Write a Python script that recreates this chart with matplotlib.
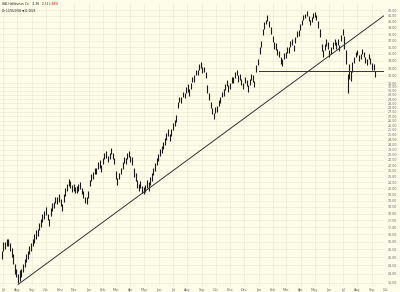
import matplotlib
matplotlib.use("Agg")
import matplotlib.pyplot as plt
import matplotlib.ticker as mticker
import numpy as np
import pandas as pd

# ---- data: two price bars per week (Tuesday and Friday) ----
tue_dates = pd.date_range("2004-06-29", "2006-09-05", freq="W-TUE")
fri_dates = pd.date_range("2004-07-02", "2006-09-08", freq="W-FRI")

tue_low = [14.9, 15.5, 15.7, 15.0, 14.0, 13.5, 13.8, 14.4, 14.9, 15.4,
           15.9, 16.4, 17.0, 17.6, 17.5, 17.8, 18.4, 18.7, 18.6, 18.9,
           19.8, 20.0, 19.8, 19.6, 19.9, 19.2, 18.7, 20.2, 20.8, 21.2,
           21.8, 22.1, 22.7, 22.6, 22.6, 20.8, 20.8, 21.7, 22.1, 22.8,
           22.0, 20.6, 19.8, 19.6, 19.7, 19.8, 20.6, 21.5, 22.4, 23.2,
           24.0, 24.9, 24.9, 25.9, 27.9, 28.5, 29.1, 29.9, 30.3, 31.2,
           32.0, 33.0, 32.4, 29.8, 27.9, 26.7, 27.5, 28.5, 29.4, 30.6,
           30.3, 31.0, 32.0, 31.4, 30.3, 30.6, 30.7, 31.2, 32.5, 35.0,
           37.8, 39.6, 39.2, 36.8, 35.6, 34.5, 33.3, 34.4, 35.1, 36.4,
           36.6, 37.7, 39.5, 40.6, 40.2, 40.0, 40.9, 39.0, 35.5, 35.6,
           35.8, 35.0, 36.3, 36.3, 37.0, 35.8, 29.7, 31.3, 33.7, 34.8,
           34.2, 34.5, 33.4, 33.6, 32.7]
tue_high = [15.4, 16.0, 16.2, 15.6, 14.6, 14.0, 14.3, 14.9, 15.4, 15.9,
            16.5, 16.9, 17.6, 18.2, 18.0, 18.4, 18.9, 19.3, 19.1, 19.5,
            20.4, 20.6, 20.4, 20.2, 20.5, 19.8, 19.3, 20.7, 21.4, 21.8,
            22.5, 22.7, 23.4, 23.2, 23.2, 21.5, 21.3, 22.3, 22.7, 23.4,
            22.8, 21.3, 20.4, 20.2, 20.3, 20.5, 21.3, 22.2, 23.1, 23.9,
            24.7, 25.6, 25.6, 26.6, 28.6, 29.2, 29.8, 30.9, 31.0, 32.0,
            32.8, 33.9, 33.2, 30.8, 28.7, 27.4, 28.2, 29.2, 30.2, 31.4,
            31.0, 31.8, 32.8, 32.2, 31.0, 31.4, 31.5, 32.0, 33.4, 36.0,
            38.9, 40.4, 40.2, 37.7, 36.6, 35.4, 34.2, 35.3, 36.0, 37.3,
            37.6, 38.7, 40.3, 41.3, 41.0, 40.8, 41.7, 40.2, 36.5, 36.5,
            36.8, 36.0, 37.3, 37.2, 37.9, 37.7, 32.2, 32.6, 34.5, 35.6,
            35.0, 35.3, 34.2, 34.4, 33.5]
fri_low = [15.4, 15.7, 15.4, 14.6, 13.8, 13.6, 14.1, 14.7, 15.2, 15.7,
           16.2, 16.8, 17.4, 17.9, 17.1, 18.2, 18.8, 18.9, 18.2, 19.4,
           20.2, 19.7, 19.6, 19.8, 19.5, 18.8, 19.2, 20.6, 21.2, 21.7,
           21.4, 22.6, 22.3, 23.1, 22.1, 20.3, 21.2, 22.2, 22.6, 22.3,
           21.0, 20.0, 20.0, 19.5, 20.0, 20.3, 21.1, 22.0, 22.9, 23.6,
           24.5, 24.4, 25.5, 26.4, 28.6, 29.2, 29.8, 29.4, 31.1, 32.0,
           32.8, 32.3, 31.6, 28.9, 27.3, 27.4, 28.2, 29.2, 30.1, 29.9,
           31.0, 31.7, 31.2, 30.7, 31.0, 29.9, 31.4, 30.5, 33.4, 36.0,
           38.8, 40.2, 38.1, 35.8, 34.8, 33.6, 34.2, 35.2, 36.0, 35.5,
           37.5, 38.6, 40.3, 41.0, 39.5, 40.7, 40.4, 37.6, 34.6, 36.2,
           34.6, 35.8, 35.8, 35.4, 37.9, 33.5, 31.5, 32.5, 34.5, 34.0,
           35.0, 33.7, 34.2, 32.8, 31.8]
fri_high = [16.0, 16.2, 15.9, 15.2, 14.3, 14.2, 14.6, 15.2, 15.7, 16.2,
            16.8, 17.3, 18.0, 18.5, 17.6, 18.8, 19.3, 19.5, 18.7, 20.0,
            20.8, 20.3, 20.1, 20.4, 20.0, 19.3, 19.8, 21.2, 21.8, 22.3,
            22.0, 23.2, 22.9, 23.7, 22.7, 20.9, 21.8, 22.8, 23.2, 22.9,
            21.8, 20.7, 20.6, 20.1, 20.7, 21.0, 21.8, 22.7, 23.6, 24.3,
            25.2, 25.1, 26.2, 27.1, 29.3, 29.9, 30.5, 30.2, 31.8, 32.8,
            33.6, 33.1, 32.4, 29.8, 28.0, 28.1, 28.9, 29.9, 30.9, 30.7,
            31.8, 32.5, 32.0, 31.5, 31.8, 30.7, 32.2, 31.3, 34.3, 37.0,
            39.9, 41.1, 39.2, 36.8, 35.7, 34.5, 35.1, 36.1, 36.9, 36.4,
            38.5, 39.6, 41.1, 41.8, 40.3, 41.5, 41.2, 38.8, 35.6, 37.2,
            35.6, 36.8, 36.8, 36.4, 38.8, 35.6, 33.5, 33.8, 35.3, 34.9,
            35.8, 34.6, 35.0, 33.7, 32.6]

support_level = 32.6
support_start = "2006-01-01"
trend_dates = ["2004-08-03", "2006-09-26"]
trend_prices = [13.4, 41.0]

months = pd.date_range("2004-07-01", "2006-10-01", freq="MS")
month_labels = [d.strftime("%b") for d in months]
ytick_vals = list(np.arange(13.0, 31.0, 0.5)) + list(np.arange(31.0, 43.0, 1.0))

# ---- figure ----
BG = "#fdfde9"
GRID = "#ececd4"
fig = plt.figure(figsize=(4.0, 2.92), dpi=100, facecolor=BG)
ax = fig.add_axes([0.0, 0.0205, 0.96, 0.9695], facecolor=BG)

ax.set_yscale("log")
ax.set_ylim(13.31, 43.29)
x_end = pd.Timestamp("2006-09-27")
ax.set_xlim(pd.Timestamp("2004-06-25"), x_end)

# grid
for d in months:
    ax.axvline(d, color=GRID, lw=0.5, zorder=0)
for v in ytick_vals:
    ax.axhline(v, color=GRID, lw=0.5, zorder=0)

# price bars
ax.vlines(tue_dates, tue_low, tue_high, color="#1a1a1a", lw=0.8, zorder=3)
ax.vlines(fri_dates, fri_low, fri_high, color="#1a1a1a", lw=0.8, zorder=3)

# trend lines
ax.plot(pd.to_datetime(trend_dates), trend_prices, color="#333333", lw=0.7, zorder=4)
ax.plot([pd.Timestamp(support_start), x_end],
        [support_level, support_level], color="#333333", lw=0.7, zorder=4)

# y labels on the right
ax.yaxis.set_major_locator(mticker.FixedLocator(ytick_vals))
ax.yaxis.set_minor_locator(mticker.NullLocator())
ax.yaxis.set_major_formatter(mticker.FuncFormatter(lambda v, p: f"{v:.2f}"))
ax.yaxis.set_minor_formatter(mticker.NullFormatter())
ax.yaxis.tick_right()
ax.tick_params(axis="y", length=0, pad=2.5, labelsize=2.3, labelcolor="#666666")
ax.set_xticks([])

# month labels
trans = ax.get_xaxis_transform()
for d, lab in zip(months, month_labels):
    ax.text(d, -0.006, lab, transform=trans, ha="center", va="top",
            fontsize=2.4, color="#666666", clip_on=False)

for s in ax.spines.values():
    s.set_visible(False)

# header text
fig.text(0.005, 0.992, "HAL Halliburton Co", fontsize=2.1, color="#222222",
         ha="left", va="top")
fig.text(0.080, 0.992, "31.96", fontsize=2.1, color="#222222", ha="left", va="top")
fig.text(0.105, 0.992, "-0.54", fontsize=2.1, color="#dd0000", ha="left", va="top")
fig.text(0.122, 0.992, "-1.66%", fontsize=2.1, color="#dd0000", ha="left", va="top")
fig.text(0.005, 0.972, "Dr 10/06/2006 \u25bc11.0026", fontsize=2.0, color="#222222",
         ha="left", va="top")

fig.savefig("out.png", dpi=100, facecolor=BG)
